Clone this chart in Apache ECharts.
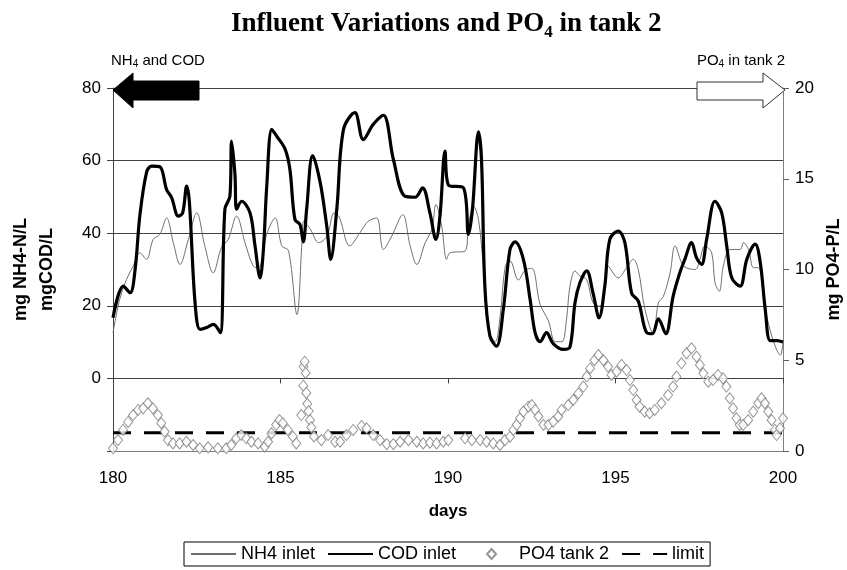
<!DOCTYPE html>
<html lang="en">
<head>
    <meta charset="UTF-8">
    <script src="https://cdn.jsdelivr.net/npm/echarts@6/dist/echarts.min.js"></script>
    <title>Influent Variations and PO4 in tank 2</title>
    <style>
        html, body { margin: 0; padding: 0; background: #fff; }
        #main { width: 847px; height: 570px; }
    </style>
</head>
<body>
<div id="main"></div>
<script>
    // x axis ticks (days)
    var dayTicks = [180, 185, 190, 195, 200];

    // NH4 inlet (mg NH4-N/L)
    var nh4Days = [180.0, 180.2, 180.4, 180.6, 180.8, 181.0, 181.2, 181.4, 181.6, 181.8, 182.0, 182.25, 182.5, 182.74, 182.99, 183.24, 183.44, 183.69, 183.94, 184.19,
        184.34, 184.59, 184.84, 185.04, 185.24, 185.49, 185.64, 185.69, 185.89, 186.14, 186.39, 186.6, 186.75, 187.07, 187.37, 187.62, 187.87, 188.07, 188.32, 188.65,
        188.87, 189.07, 189.32, 189.52, 189.64, 189.81, 189.96, 190.06, 190.51, 190.61, 190.76, 190.91, 191.06, 191.21, 191.41, 191.56, 191.71, 191.85, 192.1, 192.3,
        192.5, 192.75, 193.0, 193.2, 193.4, 193.54, 193.64, 193.79, 193.94, 194.14, 194.33, 194.53, 194.68, 194.78, 195.08, 195.33, 195.53, 195.68, 195.88, 196.13,
        196.28, 196.43, 196.63, 196.78, 197.03, 197.38, 197.52, 197.67, 197.87, 197.97, 198.1, 198.22, 198.42, 198.72, 198.82, 198.97, 199.12, 199.27, 199.47, 199.72,
        199.92, 200.0];
    var nh4Vals = [12.6, 21.8, 27.2, 30.9, 34.6, 32.8, 38.3, 39.7, 44.2, 37.4, 31.4, 38.3, 45.6, 36.5, 29.1, 36.1, 38.3, 44.7, 37.4, 30.9,
        30.5, 39.7, 44.2, 36.5, 35.2, 17.6, 37.4, 43.3, 41.1, 37.4, 39.2, 45.6, 44.5, 36.5, 40.1, 43.3, 44.2, 35.5, 39.2, 45.1,
        36.5, 31.4, 37.4, 41.1, 47.9, 42.0, 32.8, 34.6, 35.1, 42.0, 47.5, 43.8, 30.0, 13.5, 10.1, 17.4, 30.9, 32.4, 27.1, 29.8,
        30.3, 20.4, 15.8, 10.1, 10.1, 16.5, 25.4, 29.6, 28.2, 27.2, 20.8, 19.9, 24.0, 30.9, 27.7, 30.5, 32.8, 30.0, 19.0, 12.3,
        20.8, 22.6, 29.1, 36.5, 31.0, 30.0, 32.8, 36.5, 34.6, 26.4, 24.0, 31.0, 35.5, 35.5, 37.4, 35.5, 30.5, 30.5, 19.0, 10.1,
        6.4, 10.0];

    // COD inlet (mg COD/L), thick black line
    var codDays = [180.0, 180.31, 180.51, 180.66, 180.8, 181.0, 181.15, 181.4, 181.6, 181.75, 181.95, 182.08, 182.2, 182.28, 182.45, 182.6, 182.8, 183.0, 183.2, 183.34,
        183.49, 183.54, 183.64, 183.69, 183.84, 184.09, 184.24, 184.39, 184.49, 184.59, 184.74, 184.89, 185.14, 185.28, 185.43, 185.58, 185.68, 185.78, 185.96, 186.18,
        186.38, 186.5, 186.68, 186.88, 187.22, 187.47, 187.77, 188.07, 188.37, 188.71, 189.02, 189.24, 189.46, 189.64, 189.76, 189.91, 190.01, 190.46, 190.61, 190.73,
        190.91, 191.0, 191.1, 191.25, 191.45, 191.65, 191.85, 192.0, 192.25, 192.45, 192.6, 192.75, 192.94, 193.14, 193.44, 193.64, 193.79, 193.94, 194.14, 194.33,
        194.51, 194.68, 194.83, 195.08, 195.28, 195.48, 195.68, 195.93, 196.1, 196.28, 196.5, 196.72, 196.92, 197.07, 197.27, 197.42, 197.57, 197.72, 197.97, 198.17,
        198.32, 198.47, 198.72, 198.92, 199.17, 199.32, 199.47, 199.62, 199.82, 200.0];
    var codVals = [16.7, 25.4, 23.6, 30.0, 44.7, 56.7, 58.5, 58.3, 52.0, 49.8, 44.7, 45.6, 53.0, 48.6, 20.8, 13.5, 14.0, 14.9, 12.6, 46.6,
        50.2, 65.4, 56.3, 46.6, 48.8, 45.6, 36.5, 27.7, 35.5, 53.0, 68.6, 66.7, 63.1, 57.6, 43.8, 42.4, 37.6, 46.6, 61.4, 54.2,
        42.0, 32.8, 46.6, 68.6, 73.2, 65.8, 70.0, 72.5, 60.3, 50.2, 49.9, 52.5, 45.6, 38.3, 44.7, 62.6, 53.3, 52.5, 39.7, 46.6,
        67.9, 60.3, 25.4, 11.7, 8.9, 18.9, 35.5, 37.6, 32.8, 21.8, 12.6, 10.1, 12.6, 9.6, 8.0, 8.6, 20.8, 26.4, 29.6, 23.5,
        16.7, 25.4, 38.3, 40.6, 37.4, 23.5, 21.3, 12.6, 12.3, 16.4, 12.3, 22.6, 29.1, 32.8, 37.4, 33.2, 31.4, 38.3, 48.8, 45.6,
        36.5, 27.7, 25.4, 32.8, 37.0, 32.0, 19.0, 10.4, 10.4, 10.0];

    // PO4 in tank 2 (mg PO4-P/L), right axis
    var po4Days = [180.0, 180.15, 180.3, 180.45, 180.6, 180.75, 180.9, 181.04, 181.19, 181.34, 181.44, 181.54, 181.64, 181.79, 181.99, 182.19, 182.39, 182.59, 182.84, 183.13,
        183.38, 183.53, 183.68, 183.83, 183.98, 184.13, 184.33, 184.53, 184.63, 184.73, 184.87, 184.97, 185.07, 185.22, 185.37, 185.47, 185.62, 185.68, 185.69, 185.72,
        185.75, 185.77, 185.8, 185.84, 185.88, 185.92, 186.0, 186.22, 186.42, 186.63, 186.78, 186.97, 187.17, 187.42, 187.57, 187.77, 187.97, 188.17, 188.37, 188.57,
        188.82, 189.07, 189.26, 189.46, 189.66, 189.86, 190.01, 190.51, 190.71, 190.96, 191.15, 191.35, 191.55, 191.7, 191.85, 191.95, 192.05, 192.15, 192.25, 192.4,
        192.5, 192.6, 192.7, 192.85, 193.0, 193.14, 193.29, 193.39, 193.59, 193.74, 193.89, 194.04, 194.14, 194.24, 194.37, 194.49, 194.64, 194.78, 194.88, 195.03,
        195.18, 195.33, 195.43, 195.53, 195.63, 195.72, 195.87, 196.02, 196.17, 196.37, 196.57, 196.72, 196.82, 196.97, 197.12, 197.27, 197.42, 197.52, 197.62, 197.77,
        197.91, 198.06, 198.21, 198.31, 198.41, 198.51, 198.61, 198.71, 198.81, 198.96, 199.11, 199.26, 199.36, 199.46, 199.56, 199.66, 199.76, 199.81, 199.91, 200.0];
    var po4Vals = [0.15, 0.6, 1.16, 1.6, 1.98, 2.26, 2.35, 2.63, 2.35, 1.98, 1.53, 1.07, 0.6, 0.42, 0.42, 0.51, 0.33, 0.15, 0.2, 0.15,
        0.15, 0.33, 0.7, 0.88, 0.7, 0.51, 0.42, 0.24, 0.51, 0.97, 1.44, 1.7, 1.53, 1.16, 0.79, 0.42, 1.98, 3.6, 4.65, 4.92,
        4.3, 3.2, 2.6, 2.2, 1.7, 1.3, 0.8, 0.6, 0.88, 0.51, 0.51, 0.88, 1.16, 1.38, 1.25, 0.88, 0.6, 0.38, 0.38, 0.51,
        0.6, 0.51, 0.42, 0.46, 0.42, 0.51, 0.6, 0.7, 0.6, 0.6, 0.51, 0.42, 0.33, 0.6, 0.79, 1.16, 1.44, 1.8, 2.17, 2.44,
        2.53, 2.26, 1.9, 1.44, 1.44, 1.62, 1.9, 2.26, 2.53, 2.81, 3.17, 3.55, 4.1, 4.55, 5.0, 5.29, 5.0, 4.65, 4.19, 4.37,
        4.74, 4.46, 3.91, 3.36, 2.81, 2.44, 2.17, 2.08, 2.26, 2.63, 3.08, 3.55, 4.1, 4.83, 5.38, 5.66, 5.2, 4.74, 4.28, 3.82,
        3.91, 4.19, 4.0, 3.55, 2.9, 2.35, 1.8, 1.44, 1.44, 1.7, 2.17, 2.63, 2.9, 2.63, 2.17, 1.7, 1.16, 0.88, 1.25, 1.8];

    // limit for PO4
    var limitDays = [180, 200];
    var limitVals = [1, 1];

    function pairs(xs, ys) {
        var out = [];
        for (var i = 0; i < xs.length; i++) out.push([xs[i], ys[i]]);
        return out;
    }

    var FONT = 'Arial, "Liberation Sans", sans-serif';
    var SERIF = '"Liberation Serif", "Times New Roman", serif';
    // small diamond centred in the 45x12 legend box (the move-tos fix the box)
    var LEGEND_DIAMOND = 'path://M0,0 M45,12 M22.5,1 L27,6 L22.5,11 L18,6 Z';
    var myChart = echarts.init(document.getElementById('main'));

    var option = {
        animation: false,
        title: {
            text: '{a|Influent Variations and PO}{s|4}{a| in tank 2}',
            left: 226,
            top: 3,
            textStyle: {
                rich: {
                    a: { fontFamily: SERIF, fontWeight: 'bold', fontSize: 27, color: '#000' },
                    s: { fontFamily: SERIF, fontWeight: 'bold', fontSize: 17, color: '#000', padding: [16, 0, 0, 0] }
                }
            }
        },
        grid: { left: 113, right: 64, top: 88, bottom: 119, outerBoundsMode: 'none' },
        legend: {
            bottom: 4,
            left: 184,
            borderColor: '#000',
            borderWidth: 1,
            borderRadius: 0,
            padding: [3, 6, 3, 6],
            itemGap: 12,
            itemWidth: 45,
            itemHeight: 12,
            textStyle: { fontFamily: FONT, fontSize: 18, color: '#000' },
            // line entries: hide the little symbol, keep only the line
            data: [
                { name: 'NH4 inlet', itemStyle: { opacity: 0 } },
                { name: 'COD inlet', itemStyle: { opacity: 0 } },
                { name: 'PO4 tank 2', icon: LEGEND_DIAMOND },
                { name: 'limit', itemStyle: { opacity: 0 } }
            ]
        },
        xAxis: [
            {
                type: 'value',
                min: dayTicks[0],
                max: dayTicks[dayTicks.length - 1],
                interval: 5,
                position: 'bottom',
                name: 'days',
                nameLocation: 'middle',
                nameGap: 52,
                nameTextStyle: { fontFamily: FONT, fontSize: 17, fontWeight: 'bold', color: '#000' },
                axisLine: { onZero: false, lineStyle: { color: '#808080', width: 1 } },
                axisTick: { show: false },
                axisLabel: { fontFamily: FONT, fontSize: 17, color: '#000', margin: 19 },
                splitLine: { show: false }
            },
            {
                // the Excel category axis crosses at y = 0, only its ticks show there
                type: 'value',
                min: dayTicks[0],
                max: dayTicks[dayTicks.length - 1],
                interval: 5,
                position: 'top',
                axisLine: { onZero: true, onZeroAxisIndex: 0, lineStyle: { color: '#404040', width: 1 } },
                axisTick: { show: true, inside: true, length: 5, lineStyle: { color: '#404040' } },
                axisLabel: { show: false },
                splitLine: { show: false }
            }
        ],
        yAxis: [
            {
                type: 'value',
                min: -20,
                max: 80,
                interval: 20,
                name: 'mg NH4-N/L\nmgCOD/L',
                nameLocation: 'middle',
                nameRotate: 90,
                nameGap: 53,
                nameTextStyle: { fontFamily: FONT, fontSize: 18, fontWeight: 'bold', color: '#000', lineHeight: 26 },
                axisLine: { show: true, lineStyle: { color: '#404040', width: 1 } },
                axisTick: { show: true, length: 6, lineStyle: { color: '#404040' } },
                axisLabel: {
                    fontFamily: FONT, fontSize: 17, color: '#000', margin: 12,
                    formatter: function (v) { return v < 0 ? '' : v; }
                },
                splitLine: { show: true, lineStyle: { color: '#404040', width: 1 } }
            },
            {
                type: 'value',
                min: 0,
                max: 20,
                interval: 5,
                position: 'right',
                name: 'mg PO4-P/L',
                nameLocation: 'middle',
                nameRotate: 90,
                nameGap: 30,
                nameTextStyle: { fontFamily: FONT, fontSize: 18, fontWeight: 'bold', color: '#000' },
                axisLine: { show: true, lineStyle: { color: '#808080', width: 1 } },
                axisTick: { show: true, length: 6, lineStyle: { color: '#606060' } },
                axisLabel: { fontFamily: FONT, fontSize: 17, color: '#000', margin: 12 },
                splitLine: { show: false }
            }
        ],
        series: [
            {
                name: 'NH4 inlet',
                type: 'line',
                xAxisIndex: 0,
                yAxisIndex: 0,
                data: pairs(nh4Days, nh4Vals),
                symbol: 'none',
                smooth: 0.35,
                lineStyle: { color: '#6e6e6e', width: 1 },
                itemStyle: { color: '#6e6e6e' },
                z: 2
            },
            {
                name: 'COD inlet',
                type: 'line',
                xAxisIndex: 0,
                yAxisIndex: 0,
                data: pairs(codDays, codVals),
                symbol: 'none',
                smooth: 0.35,
                lineStyle: { color: '#000', width: 3.2 },
                itemStyle: { color: '#000' },
                z: 3
            },
            {
                name: 'PO4 tank 2',
                type: 'scatter',
                xAxisIndex: 0,
                yAxisIndex: 1,
                data: pairs(po4Days, po4Vals),
                symbol: 'diamond',
                symbolSize: [9, 11],
                itemStyle: { color: '#fff', borderColor: '#7a7a7a', borderWidth: 1 },
                z: 5
            },
            {
                name: 'limit',
                type: 'line',
                xAxisIndex: 0,
                yAxisIndex: 1,
                data: pairs(limitDays, limitVals),
                symbol: 'none',
                lineStyle: { color: '#000', width: 3, type: [18, 13] },
                itemStyle: { color: '#000' },
                z: 4
            }
        ]
    };
    myChart.setOption(option);

    /** arrows and side captions above the plot */
    var pL = myChart.convertToPixel({ gridIndex: 0 }, [180, 80]);
    var pR = myChart.convertToPixel({ gridIndex: 0 }, [200, 80]);
    var cy = pL[1] + 2;
    myChart.setOption({
        graphic: [
            {
                type: 'polygon',
                shape: { points: [[pL[0], cy], [pL[0] + 20, cy - 17], [pL[0] + 20, cy - 9], [pL[0] + 86, cy - 9], [pL[0] + 86, cy + 10], [pL[0] + 20, cy + 10], [pL[0] + 20, cy + 18]] },
                style: { fill: '#000', stroke: '#000', lineWidth: 1 },
                z: 10
            },
            {
                type: 'polygon',
                shape: { points: [[pR[0] + 2, cy], [pR[0] - 20, cy - 17], [pR[0] - 20, cy - 8], [pR[0] - 86, cy - 8], [pR[0] - 86, cy + 10], [pR[0] - 20, cy + 10], [pR[0] - 20, cy + 18]] },
                style: { fill: '#fff', stroke: '#333', lineWidth: 1 },
                z: 10
            },
            {
                type: 'text',
                left: pL[0] - 2,
                top: 53,
                style: {
                    text: '{a|NH}{s|4}{a| and COD}',
                    rich: {
                        a: { fontFamily: FONT, fontSize: 15, fill: '#000' },
                        s: { fontFamily: FONT, fontSize: 10, fill: '#000', padding: [8, 0, 0, 0] }
                    }
                },
                z: 10
            },
            {
                type: 'text',
                right: 847 - pR[0] - 2,
                top: 53,
                style: {
                    text: '{a|PO}{s|4}{a| in tank 2}',
                    rich: {
                        a: { fontFamily: FONT, fontSize: 15, fill: '#000' },
                        s: { fontFamily: FONT, fontSize: 10, fill: '#000', padding: [8, 0, 0, 0] }
                    }
                },
                z: 10
            }
        ]
    });
</script>
</body>
</html>
